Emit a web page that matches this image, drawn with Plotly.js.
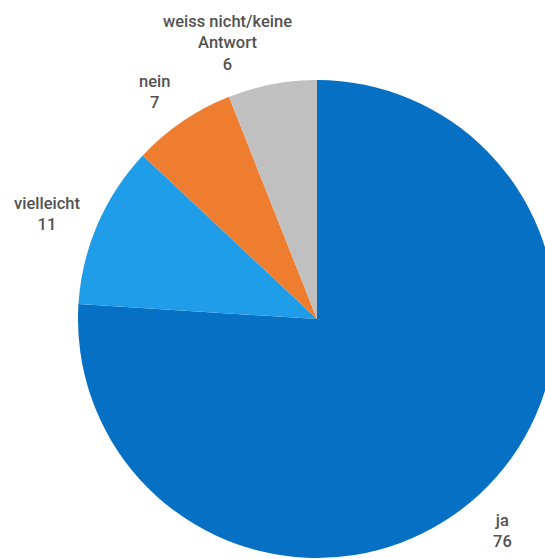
<!DOCTYPE html>
<html><head><meta charset="utf-8">
<script src="https://cdn.plot.ly/plotly-3.0.1.min.js"></script>
<style>html,body{margin:0;padding:0;overflow:hidden;background:#fff}#chart{width:600px;height:600px}</style>
</head><body><div id="chart"></div>
<script>
const categories = ["ja", "vielleicht", "nein", "weiss nicht/keine<br>Antwort"];
const values = [76, 11, 7, 6];
const colors = ["#0570c4", "#1f9de8", "#ef7d2f", "#c0c0c0"];

const W = 600, H = 600;
const cx = 317, cy = 319, R = 239;
const labelR = 285;
const nudges = [[-10, 4], [-8, 8], [-2, 9], [-36, 4]];

const total = values.reduce((a, b) => a + b, 0);
let cum = 0;
const annotations = categories.map((c, i) => {
  const mid = (cum + values[i] / 2) / total * 2 * Math.PI;
  cum += values[i];
  const px = cx + labelR * Math.sin(mid) + nudges[i][0];
  const py = cy - labelR * Math.cos(mid) + nudges[i][1];
  return {
    x: px / W, y: 1 - py / H, xref: "paper", yref: "paper",
    text: c + "<br>" + values[i], showarrow: false,
    xanchor: "center", yanchor: "middle", align: "center",
    font: {family: "Roboto, sans-serif", size: 16.5, weight: 500, color: "#525252"}
  };
});

const data = [{
  type: "pie", labels: categories, values: values, sort: false,
  direction: "clockwise", rotation: 0, textinfo: "none", hoverinfo: "label+value",
  marker: {colors: colors, line: {width: 0}},
  domain: {x: [(cx - R) / W, (cx + R) / W], y: [1 - (cy + R) / H, 1 - (cy - R) / H]}
}];
const layout = {
  width: W, height: H, margin: {l: 0, r: 0, t: 0, b: 0},
  showlegend: false, paper_bgcolor: "#fff", annotations: annotations
};
Plotly.newPlot("chart", data, layout, {displayModeBar: false, staticPlot: true});
</script></body></html>
